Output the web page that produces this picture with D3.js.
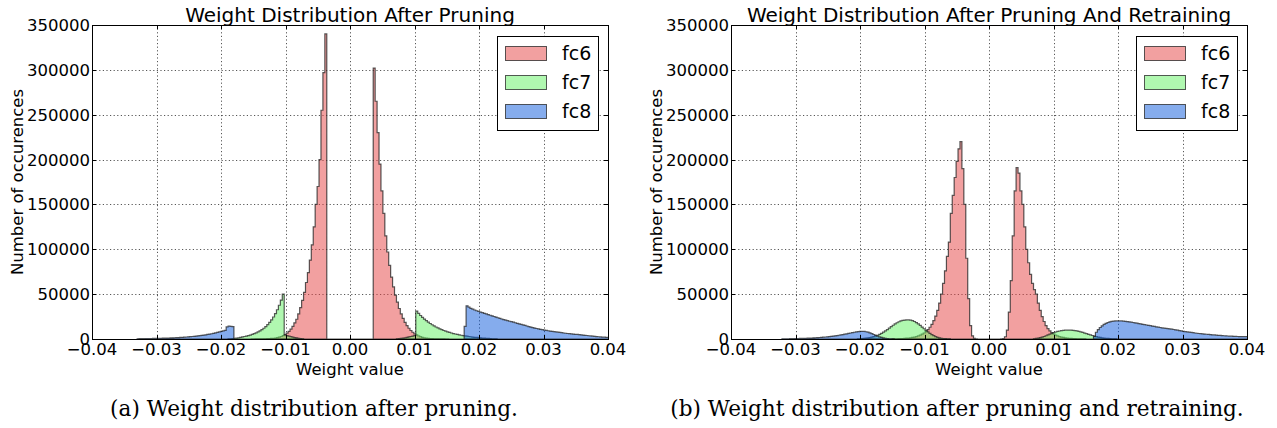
<!DOCTYPE html>
<html lang="en">
<meta charset="UTF-8">
<title>Weight Distribution</title>
<script src="https://cdnjs.cloudflare.com/ajax/libs/d3/7.8.5/d3.min.js"></script>
<style>
body { margin: 0; background: #fff; }
svg { display: block; font-family: "DejaVu Sans", sans-serif; }
.grid line { stroke: #444; stroke-dasharray: 1.2,2.4; stroke-width: 0.9; }
.frame { fill: none; stroke: #000; stroke-width: 1; }
.tick { stroke: #000; stroke-width: 1; }
.tick-label { font-size: 16.5px; fill: #000; }
.title { font-size: 20px; fill: #000; }
.axis-label { font-size: 16.5px; fill: #000; }
.hist { stroke: #222; stroke-opacity: 0.75; stroke-width: 1.2; }
.legend-box { fill: #fff; stroke: #000; stroke-width: 1; }
.legend-text { font-size: 19px; }
.caption { font-family: "DejaVu Serif", serif; font-size: 21.6px; }
</style>
<body>
<script>
// histogram bins are 0.0003 wide, each array starts at its own left edge
var binWidth = 0.0003

var seriesNames = ["fc6", "fc7", "fc8"]
var xTicks = [-0.04, -0.03, -0.02, -0.01, 0, 0.01, 0.02, 0.03, 0.04]
var yTicks = [0, 50000, 100000, 150000, 200000, 250000, 300000, 350000]

// ---- (a) after pruning ----
var prunedFc6Start = -0.0153
var prunedFc6 = [
  10, 20, 30, 50, 80, 120, 170, 240, 330, 450, 600, 800, 1100, 1500, 2100, 2800, 3800, 5000, 6500, 8500,
  11000, 14000, 18000, 22000, 28000, 35000, 43000, 52000, 63000, 74000, 88000, 105000, 125000, 150000,
  170000, 200000, 255000, 297000, 340000,
  0, 0, 0, 0, 0, 0, 0, 0, 0, 0, 0, 0, 0, 0, 0, 0, 0, 0, 0, 0, 0, 0, 0, 0,
  302000, 265000, 230000, 195000, 165000, 140000, 115000, 97000, 82000, 69000, 58000, 49000, 41000,
  34000, 28000, 23000, 18500, 15000, 12000, 9500, 7500, 5800, 4500, 3400, 2600, 1900, 1400, 1000,
  750, 550, 400, 280, 200, 140, 90, 60, 40, 20, 10
]
var prunedFc7NegStart = -0.0189
var prunedFc7Neg = [
  100, 200, 400, 700, 1000, 1400, 1800, 2300, 2800, 3300, 3800, 4400, 5100, 5900, 6800, 7900, 9100,
  10400, 12000, 13900, 16000, 18500, 21300, 24500, 28300, 32600, 37600, 43400, 50000,
  4500, 3800, 3200, 2600, 2100, 1600, 1200, 800, 500, 200
]
var prunedFc7PosStart = 0.0072
var prunedFc7Pos = [
  200, 400, 700, 1000, 1400, 1800, 2300, 2800, 3300, 3900,
  31000, 28500, 26200, 24100, 22200, 20400, 18800, 17300, 15900, 14600, 13400, 12300, 11300, 10400,
  9500, 8700, 8000, 7300, 6700, 6100, 5600, 5100, 4600, 4200, 3800, 3400, 3100, 2800, 2500, 2200,
  1900, 1700, 1500, 1300, 1100, 900, 750, 600, 450, 300, 200, 100
]
var prunedFc8NegStart = -0.0330
var prunedFc8Neg = [
  300, 330, 360, 390, 420, 460, 500, 540, 590, 640, 690, 750, 810, 880, 950, 1030, 1110, 1200, 1300,
  1400, 1520, 1640, 1770, 1910, 2060, 2230, 2400, 2600, 2800, 3000, 3250, 3500, 3750, 4050, 4350,
  4700, 5050, 5450, 5850, 6300, 6800, 7300, 7850, 8400, 9000, 9700, 13500, 14500, 14000, 13800
]
var prunedFc8PosStart = 0.0177
var prunedFc8Pos = [
  14000, 37000, 35500, 34200, 33200, 32300, 31500, 30700, 30000, 29300, 28600, 27900, 27200, 26500,
  25800, 25100, 24400, 23700, 23000, 22300, 21600, 21000, 20400, 19800, 19300, 18700, 18100, 17500,
  16900, 16300, 15700, 15100, 14500, 13900, 13300, 12700, 12200, 11700, 11200, 10800, 10400, 10000,
  9600, 9200, 8800, 8500, 8200, 7900, 7600, 7300, 7000, 6700, 6400, 6150, 5900, 5650, 5450, 5250,
  5050, 4850, 4650, 4400, 4150, 3900, 3650, 3400, 3150, 2900, 2700, 2500, 2300, 2150, 2000, 1900,
  1800, 1700
]

// ---- (b) after pruning and retraining ----
var retrainedFc6Start = -0.0150
var retrainedFc6 = [
  180, 230, 290, 360, 450, 560, 700, 900, 1100, 1400, 1750, 2200, 2700, 3400, 4300, 5400, 6700, 8400,
  10500, 13100, 16400, 20500, 25500, 32000, 40000, 50000, 62000, 76000, 92000, 108000, 140000,
  160000, 180000, 198000, 212000, 220000, 190000, 150000, 90000, 45000, 15000, 3500, 600, 100,
  0, 0, 0, 0, 0, 0, 0, 0, 0, 0, 0, 0,
  100, 500, 2500, 10000, 30000, 65000, 115000, 165000, 191000, 185000, 165000, 150000, 125000,
  100000, 85000, 72000, 62000, 55000, 50000, 40000, 32000, 25000, 19500, 15000, 11500, 9000, 7000,
  5500, 4300, 3400, 2700, 2100, 1700, 1350, 1050, 850, 650, 500, 400, 300, 230, 170, 120, 80
]
var retrainedFc7NegStart = -0.0204
var retrainedFc7Neg = [
  200, 300, 450, 650, 900, 1200, 1600, 2100, 2700, 3400, 4200, 5200, 6300, 7600, 9000, 10500, 12100,
  13700, 15300, 16800, 18100, 19200, 20100, 20700, 21100, 21300, 21300, 21000, 20400, 19500, 18300,
  16800, 15100, 13300, 11400, 9600, 7900, 6300, 4900, 3700, 2700, 1900, 1300, 850, 550, 350, 200, 100
]
var retrainedFc7PosStart = 0.0069
var retrainedFc7Pos = [
  300, 600, 1000, 1500, 2100, 2800, 3600, 4500, 5400, 6300, 7100, 7800, 8400, 8900, 9300, 9600, 9800,
  10000, 10000, 9900, 9700, 9400, 9000, 8500, 7900, 7300, 6600, 5900, 5200, 4500, 3900, 3300, 2700,
  2200, 1800, 1400, 1100, 800, 600, 400, 250, 150, 80
]
var retrainedFc8NegStart = -0.0321
var retrainedFc8Neg = [
  200, 230, 260, 300, 340, 380, 430, 480, 540, 600, 670, 750, 840, 930, 1030, 1140, 1260, 1390, 1530,
  1690, 1860, 2040, 2240, 2460, 2700, 2950, 3230, 3530, 3850, 4200, 4550, 4950, 5350, 5800, 6250,
  6700, 7150, 7550, 7900, 8200, 8400, 8500, 8400, 8100, 7600, 6900, 6000, 5000, 4000, 3100, 2300,
  1700, 1200, 800, 500, 300, 150, 50
]
var retrainedFc8PosStart = 0.0162
var retrainedFc8Pos = [
  3000, 7500, 10500, 12800, 14700, 16200, 17400, 18400, 19100, 19600, 19900, 20100, 20200, 20200,
  20100, 19900, 19700, 19400, 19100, 18800, 18400, 18000, 17600, 17200, 16800, 16400, 16000, 15600,
  15200, 14800, 14400, 14000, 13600, 13200, 12800, 12400, 12100, 11800, 11500, 11200, 10900, 10600,
  10200, 9800, 9400, 9000, 8600, 8200, 7900, 7600, 7300, 7000, 6700, 6400, 6150, 5900, 5700, 5500,
  5300, 5100, 4900, 4700, 4500, 4300, 4100, 3950, 3800, 3650, 3500, 3350, 3200, 3100, 3000, 2900,
  2800, 2700, 2650, 2600, 2550, 2500
]

// fill colours drawn at half opacity, like alpha=0.5 in the original plot
var color = d3.scaleOrdinal()
  .domain(seriesNames)
  .range(["#e54141", "#61f161", "#0b59db"])

var panels = [
  {
    left: 92,
    title: "Weight Distribution After Pruning",
    caption: "(a) Weight distribution after pruning.",
    captionX: 314,
    hist: [
      [[prunedFc6Start, prunedFc6]],
      [[prunedFc7NegStart, prunedFc7Neg], [prunedFc7PosStart, prunedFc7Pos]],
      [[prunedFc8NegStart, prunedFc8Neg], [prunedFc8PosStart, prunedFc8Pos]]
    ]
  },
  {
    left: 731,
    title: "Weight Distribution After Pruning And Retraining",
    caption: "(b) Weight distribution after pruning and retraining.",
    captionX: 957,
    hist: [
      [[retrainedFc6Start, retrainedFc6]],
      [[retrainedFc7NegStart, retrainedFc7Neg], [retrainedFc7PosStart, retrainedFc7Pos]],
      [[retrainedFc8NegStart, retrainedFc8Neg], [retrainedFc8PosStart, retrainedFc8Pos]]
    ]
  }
]

var plotW = 516, plotTop = 25, plotBottom = 339

var svg = d3.select("body").append("svg")
  .attr("width", 1277)
  .attr("height", 428)

function fmtX(d) {
  if (d === 0) return "0.00"
  return (d < 0 ? "\u2212" : "") + Math.abs(d).toFixed(2)
}

// stepfilled outline for a list of [startEdge, counts] pieces
function stepPath(pieces, x, y) {
  var p = d3.path()
  pieces.forEach(function(piece) {
    var start = piece[0], counts = piece[1]
    p.moveTo(x(start), y(0))
    counts.forEach(function(c, i) {
      p.lineTo(x(start + i * binWidth), y(c))
      p.lineTo(x(start + (i + 1) * binWidth), y(c))
    })
    p.lineTo(x(start + counts.length * binWidth), y(0))
    p.closePath()
  })
  return p.toString()
}

panels.forEach(function(pn, idx) {
  var x = d3.scaleLinear().domain([-0.04, 0.04]).range([pn.left, pn.left + plotW])
  var y = d3.scaleLinear().domain([0, 350000]).range([plotBottom, plotTop])
  var g = svg.append("g")

  g.append("clipPath").attr("id", "clip" + idx)
    .append("rect")
    .attr("x", x(-0.04)).attr("y", y(350000))
    .attr("width", plotW).attr("height", plotBottom - plotTop)

  // dotted grid
  var grid = g.append("g").attr("class", "grid")
  grid.selectAll(".gx").data(xTicks).enter().append("line")
    .attr("x1", function(d) { return Math.round(x(d)) + 0.5 })
    .attr("x2", function(d) { return Math.round(x(d)) + 0.5 })
    .attr("y1", plotTop).attr("y2", plotBottom)
  grid.selectAll(".gy").data(yTicks).enter().append("line")
    .attr("y1", function(d) { return Math.round(y(d)) + 0.5 })
    .attr("y2", function(d) { return Math.round(y(d)) + 0.5 })
    .attr("x1", x(-0.04)).attr("x2", x(0.04))

  // histograms
  g.append("g").attr("clip-path", "url(#clip" + idx + ")")
    .selectAll("path")
    .data(pn.hist)
    .enter().append("path")
    .attr("class", "hist")
    .attr("d", function(d) { return stepPath(d, x, y) })
    .attr("fill", function(d, i) { return color(seriesNames[i]) })
    .attr("fill-opacity", 0.5)

  // frame and inward ticks on all sides
  g.append("rect").attr("class", "frame")
    .attr("x", Math.round(x(-0.04)) + 0.5).attr("y", Math.round(y(350000)) + 0.5)
    .attr("width", plotW).attr("height", plotBottom - plotTop)

  xTicks.forEach(function(d) {
    var xx = Math.round(x(d)) + 0.5
    g.append("line").attr("class", "tick").attr("x1", xx).attr("x2", xx).attr("y1", plotBottom).attr("y2", plotBottom - 4)
    g.append("line").attr("class", "tick").attr("x1", xx).attr("x2", xx).attr("y1", plotTop).attr("y2", plotTop + 4)
    g.append("text").attr("class", "tick-label")
      .attr("x", x(d)).attr("y", plotBottom + 16)
      .attr("text-anchor", "middle")
      .text(fmtX(d))
  })
  yTicks.forEach(function(d) {
    var yy = Math.round(y(d)) + 0.5
    g.append("line").attr("class", "tick").attr("y1", yy).attr("y2", yy).attr("x1", x(-0.04)).attr("x2", x(-0.04) + 4)
    g.append("line").attr("class", "tick").attr("y1", yy).attr("y2", yy).attr("x1", x(0.04)).attr("x2", x(0.04) - 4)
    g.append("text").attr("class", "tick-label")
      .attr("x", x(-0.04) - 2).attr("y", y(d))
      .attr("dy", "0.36em")
      .attr("text-anchor", "end")
      .text(d3.format("d")(d))
  })

  // titles and axis labels
  g.append("text").attr("class", "title")
    .attr("x", x(0)).attr("y", plotTop - 3)
    .attr("text-anchor", "middle")
    .text(pn.title)
  g.append("text").attr("class", "axis-label")
    .attr("x", x(0)).attr("y", plotBottom + 36)
    .attr("text-anchor", "middle")
    .text("Weight value")
  g.append("text").attr("class", "axis-label")
    .attr("transform", "translate(" + (pn.left - 69) + "," + ((plotTop + plotBottom) / 2) + ") rotate(-90)")
    .attr("text-anchor", "middle")
    .text("Number of occurences")

  // legend
  var lg = g.append("g")
    .attr("transform", "translate(" + (x(0.04) - 111) + "," + (plotTop + 11) + ")")
  lg.append("rect").attr("class", "legend-box")
    .attr("x", 0.5).attr("y", 0.5).attr("width", 101).attr("height", 94)
  seriesNames.forEach(function(s, i) {
    lg.append("rect")
      .attr("x", 8.5).attr("y", 10.5 + i * 29)
      .attr("width", 41).attr("height", 14)
      .attr("fill", color(s)).attr("fill-opacity", 0.5)
      .attr("stroke", "#222").attr("stroke-opacity", 0.75)
    lg.append("text").attr("class", "legend-text")
      .attr("x", 65).attr("y", 24 + i * 29)
      .text(s)
  })

  svg.append("text").attr("class", "caption")
    .attr("x", pn.captionX).attr("y", 416)
    .attr("text-anchor", "middle")
    .text(pn.caption)
})
</script>
</body>
</html>
